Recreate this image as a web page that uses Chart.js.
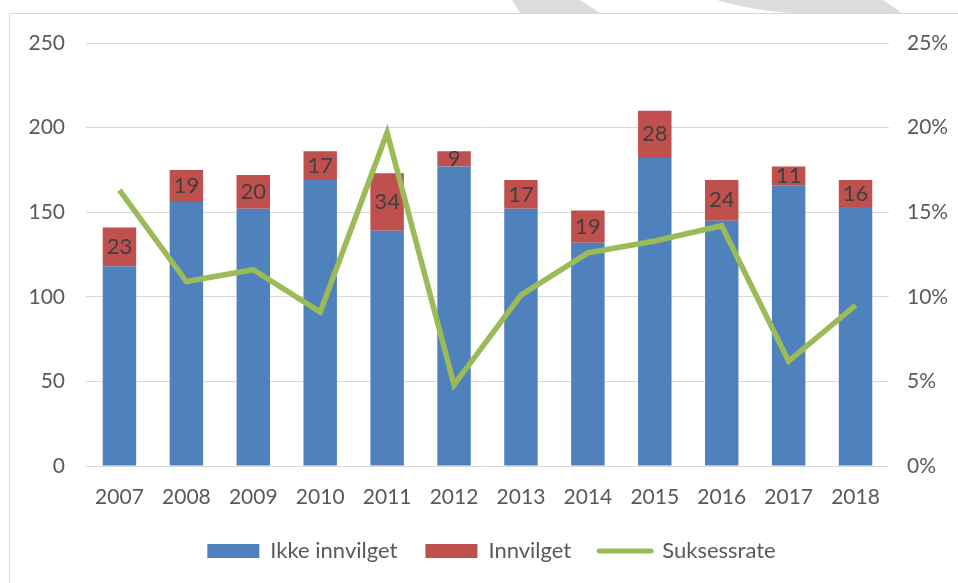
<!DOCTYPE html>
<html>
<head>
<meta charset="utf-8">
<script src="https://cdn.jsdelivr.net/npm/chart.js@4.4.0/dist/chart.umd.min.js"></script>
<style>
  html, body { margin: 0; padding: 0; background: #fff; overflow: hidden; }
  #wrap { position: relative; width: 958px; height: 583px; }
  #frame { position: absolute; left: 9px; top: 13px; width: 980px; height: 600px; border: 1px solid #d9d9d9; box-sizing: border-box; }
  #mark { position: absolute; left: 0; top: 0; }
  canvas { position: absolute; left: 0; top: 0; }
</style>
</head>
<body>
<div id="wrap">
  <svg id="mark" width="958" height="14">
    <polygon points="512,0 580,0 600,13 520,13" fill="#dcdcdc" />
    <path d="M717,0 L883,0 L902,13 L790,13 Q750,10 717,0 Z" fill="#dcdcdc" />
  </svg>
  <div id="frame"></div>
  <canvas id="chart" width="958" height="583"></canvas>
</div>
<script>
const years = ["2007", "2008", "2009", "2010", "2011", "2012", "2013", "2014", "2015", "2016", "2017", "2018"];
const ikkeInnvilget = [118, 156, 152, 169, 139, 177, 152, 132, 182, 145, 166, 153];
const innvilget = [23, 19, 20, 17, 34, 9, 17, 19, 28, 24, 11, 16];
const suksessrate = [16.3, 10.9, 11.6, 9.1, 19.7, 4.8, 10.1, 12.6, 13.3, 14.2, 6.2, 9.5];

const textColor = "#595959";
const fontFamily = "Lato, 'Open Sans', sans-serif";

// tallene inne i de røde stolpene
const barLabels = {
  id: "barLabels",
  afterDatasetsDraw(chart) {
    const ctx = chart.ctx;
    const meta = chart.getDatasetMeta(1);
    ctx.save();
    ctx.font = "22px " + fontFamily;
    ctx.fillStyle = "#404040";
    ctx.textAlign = "center";
    ctx.textBaseline = "middle";
    meta.data.forEach((bar, i) => {
      const y = (bar.y + bar.base) / 2;
      ctx.fillText(innvilget[i], bar.x, y);
    });
    ctx.restore();
  },
};

const ctx = document.getElementById("chart").getContext("2d");
new Chart(ctx, {
  type: "bar",
  data: {
    labels: years,
    datasets: [
      {
        label: "Ikke innvilget",
        data: ikkeInnvilget,
        backgroundColor: "#4f81bd",
        yAxisID: "y",
        stack: "s",
        order: 1,
      },
      {
        label: "Innvilget",
        data: innvilget,
        backgroundColor: "#c0504d",
        yAxisID: "y",
        stack: "s",
        order: 1,
      },
      {
        type: "line",
        label: "Suksessrate",
        data: suksessrate,
        borderColor: "#9bbb59",
        backgroundColor: "#9bbb59",
        borderWidth: 5.5,
        pointRadius: 0,
        tension: 0,
        yAxisID: "y2",
        order: 0,
      },
    ],
  },
  options: {
    responsive: false,
    animation: false,
    layout: { padding: { top: 43, left: 25, right: 0, bottom: 11 } },
    datasets: {
      bar: { barPercentage: 0.5, categoryPercentage: 1 },
    },
    scales: {
      x: {
        stacked: true,
        grid: { display: false, drawTicks: false },
        border: { display: false },
        ticks: { color: textColor, font: { family: fontFamily, size: 21 }, padding: 19 },
        afterFit: (s) => { s.height = 46; },
      },
      y: {
        stacked: true,
        min: 0,
        max: 250,
        ticks: { stepSize: 50, color: textColor, font: { family: fontFamily, size: 21 }, padding: 21 },
        grid: { color: "#d9d9d9", lineWidth: 1, drawTicks: false },
        border: { display: false },
        afterFit: (s) => { s.width = 61; },
      },
      y2: {
        position: "right",
        min: 0,
        max: 25,
        ticks: {
          stepSize: 5,
          color: textColor,
          font: { family: fontFamily, size: 21 },
          padding: 18,
          callback: (v) => v + "%",
        },
        grid: { display: false, drawTicks: false },
        border: { display: false },
        afterFit: (s) => { s.width = 69; },
      },
    },
    plugins: {
      legend: {
        position: "bottom",
        labels: {
          color: textColor,
          font: { family: fontFamily, size: 22 },
          usePointStyle: true,
          pointStyleWidth: 52,
          boxHeight: 14,
          padding: 28,
          sort: (a, b) => a.datasetIndex - b.datasetIndex,
          generateLabels: (chart) => {
            const items = Chart.defaults.plugins.legend.labels.generateLabels(chart);
            items.forEach((it) => {
              if (it.datasetIndex === 2) {
                it.pointStyle = "line";
                it.lineWidth = 5;
                it.lineCap = "round";
                it.strokeStyle = "#9bbb59";
              } else {
                it.pointStyle = "rect";
                it.lineWidth = 0;
              }
            });
            return items;
          },
        },
      },
      tooltip: { enabled: false },
    },
  },
  plugins: [barLabels],
});
</script>
</body>
</html>
